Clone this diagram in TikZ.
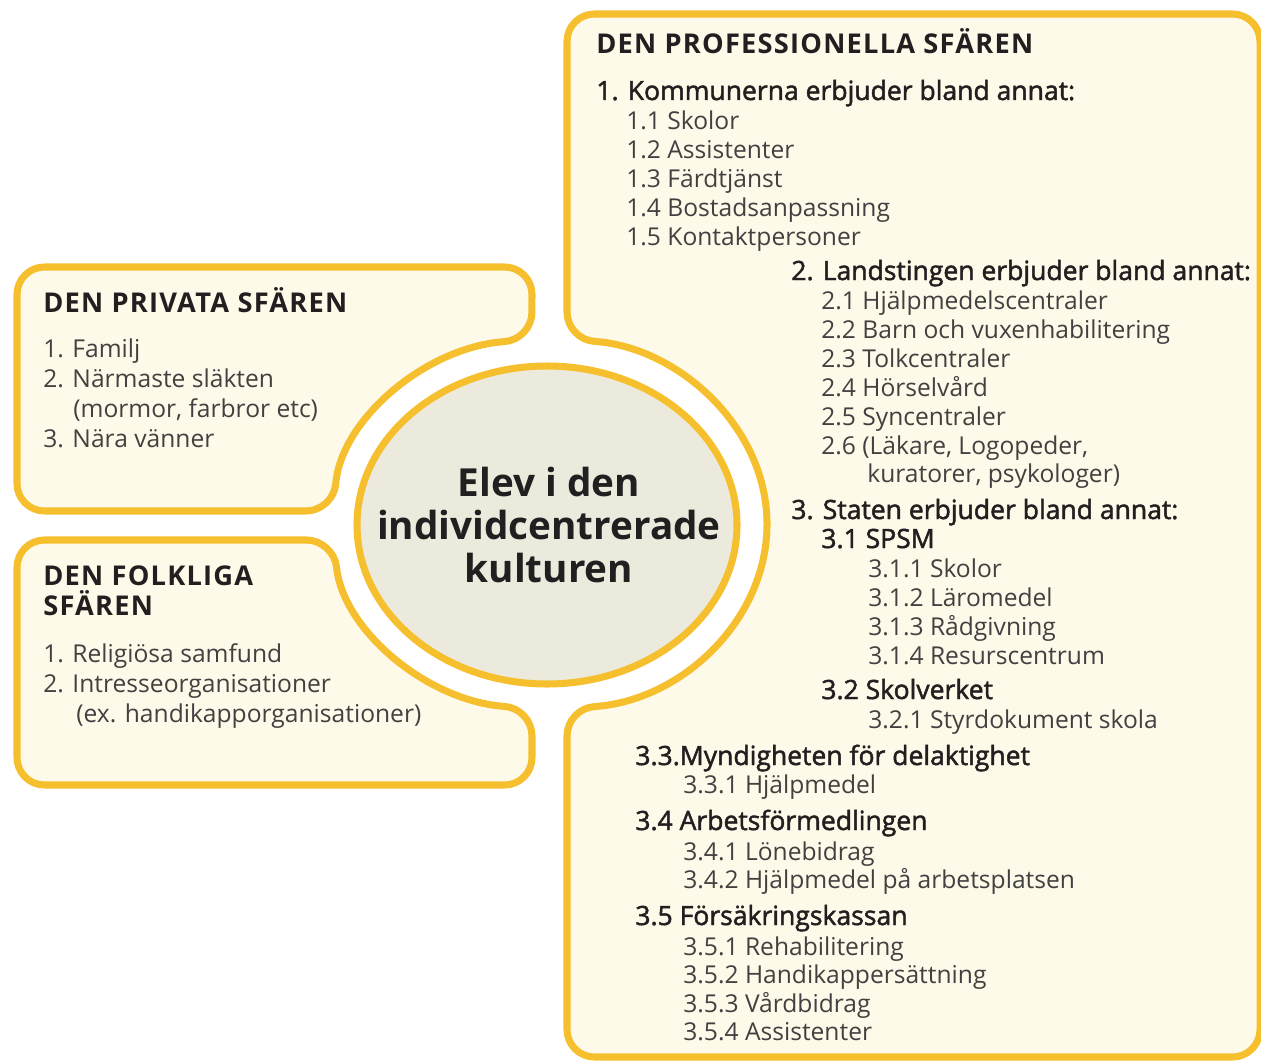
\documentclass[tikz,border=0pt]{standalone}
\usepackage{fontspec}
\setmainfont{Open Sans}
\newfontfamily\semibfont[FakeBold=1.8]{Open Sans}
\newfontfamily\headfont[LetterSpace=4.5]{Open Sans}

\definecolor{sfborder}{RGB}{246,191,46}
\definecolor{sffill}{RGB}{254,250,233}
\definecolor{sfcircle}{RGB}{236,234,221}
\definecolor{sftext}{RGB}{35,31,32}
\definecolor{sfbody}{RGB}{66,64,64}

\begin{document}
\begin{tikzpicture}[x=0.02cm, y=-0.02cm,
    panel/.style={draw=sfborder, fill=sffill, line width=4pt, rounded corners=0.55cm},
    head/.style={anchor=base west, inner sep=0pt, text=sftext, font=\fontsize{15.5}{17}\headfont\bfseries},
    sub/.style={anchor=base west, inner sep=0pt, text=sftext, font=\fontsize{15.1}{17}\semibfont},
    item/.style={anchor=base west, inner sep=0pt, text=sfbody, font=\fontsize{14}{17}\selectfont}]

    \useasboundingbox (0,0) rectangle (1261,1061);

    \def\orx{217}
    \def\ory{185}

% panels

    \draw[panel] (333.5,511) arc[start angle=184.03, end angle=265.24, x radius=\orx, y radius=\ory]
        -- (532,267) -- (17,267) -- (17,511) -- cycle;
    \draw[panel] (333.8,540) arc[start angle=175.04, end angle=94.76, x radius=\orx, y radius=\ory]
        -- (532,785) -- (17,785) -- (17,540) -- cycle;
    \draw[panel] (567,708.4) arc[start angle=85.51, end angle=-85.51, x radius=\orx, y radius=\ory]
        -- (567,14) -- (1260,14) -- (1260,1057) -- (567,1057) -- cycle;

% centre

    \draw[draw=sfborder, fill=sfcircle, line width=4pt] (547,525) ellipse[x radius=190, y radius=159];
    \node[align=center, text=sftext, font=\fontsize{22}{24.5}\selectfont\bfseries]
        (elev) at (549,525) {Elev i den\\individcentrerade\\kulturen};

% private sphere

    \node[head] (privat) at (43,312) {DEN PRIVATA SFÄREN};
    \node[item] (p1) at (43,357) {1. Familj};
    \node[item] (p2) at (43,387) {2. Närmaste släkten};
    \node[item] (p2b) at (73,417) {(mormor, farbror etc)};
    \node[item] (p3) at (43,447) {3. Nära vänner};

% popular sphere

    \node[head] (folk) at (43,585) {DEN FOLKLIGA};
    \node[head] (folkb) at (43,615) {SFÄREN};
    \node[item] (f1) at (43,662) {1. Religiösa samfund};
    \node[item] (f2) at (43,692) {2. Intresseorganisationer};
    \node[item] (f2b) at (76,722) {(ex. handikapporganisationer)};

% professional sphere

    \node[head] (prof) at (596,54) {DEN PROFESSIONELLA SFÄREN};

    \node[sub] (kom) at (596,100) {1. Kommunerna erbjuder bland annat:};
    \node[item] (k1) at (626,130) {1.1 Skolor};
    \node[item] (k2) at (626,158) {1.2 Assistenter};
    \node[item] (k3) at (626,187) {1.3 Färdtjänst};
    \node[item] (k4) at (626,216) {1.4 Bostadsanpassning};
    \node[item] (k5) at (626,245) {1.5 Kontaktpersoner};

    \node[sub] (lan) at (791,280) {2. Landstingen erbjuder bland annat:};
    \node[item] (l1) at (821,309) {2.1 Hjälpmedelscentraler};
    \node[item] (l2) at (821,338) {2.2 Barn och vuxenhabilitering};
    \node[item] (l3) at (821,367) {2.3 Tolkcentraler};
    \node[item] (l4) at (821,396) {2.4 Hörselvård};
    \node[item] (l5) at (821,425) {2.5 Syncentraler};
    \node[item] (l6) at (821,454) {2.6 (Läkare, Logopeder,};
    \node[item] (l6b) at (867,482) {kuratorer, psykologer)};

    \node[sub] (sta) at (791,519) {3. Staten erbjuder bland annat:};
    \node[sub] (spsm) at (821,548) {3.1 SPSM};
    \node[item] (s1) at (868,577) {3.1.1 Skolor};
    \node[item] (s2) at (868,606) {3.1.2 Läromedel};
    \node[item] (s3) at (868,635) {3.1.3 Rådgivning};
    \node[item] (s4) at (868,664) {3.1.4 Resurscentrum};
    \node[sub] (skv) at (821,699) {3.2 Skolverket};
    \node[item] (v1) at (868,728) {3.2.1 Styrdokument skola};

    \node[sub] (myn) at (635,765) {3.3.Myndigheten för delaktighet};
    \node[item] (m1) at (683,793) {3.3.1 Hjälpmedel};
    \node[sub] (arb) at (635,830) {3.4 Arbetsförmedlingen};
    \node[item] (a1) at (683,860) {3.4.1 Lönebidrag};
    \node[item] (a2) at (683,888) {3.4.2 Hjälpmedel på arbetsplatsen};
    \node[sub] (fk) at (635,925) {3.5 Försäkringskassan};
    \node[item] (fk1) at (683,955) {3.5.1 Rehabilitering};
    \node[item] (fk2) at (683,983) {3.5.2 Handikappersättning};
    \node[item] (fk3) at (683,1012) {3.5.3 Vårdbidrag};
    \node[item] (fk4) at (683,1040) {3.5.4 Assistenter};

\end{tikzpicture}
\end{document}
